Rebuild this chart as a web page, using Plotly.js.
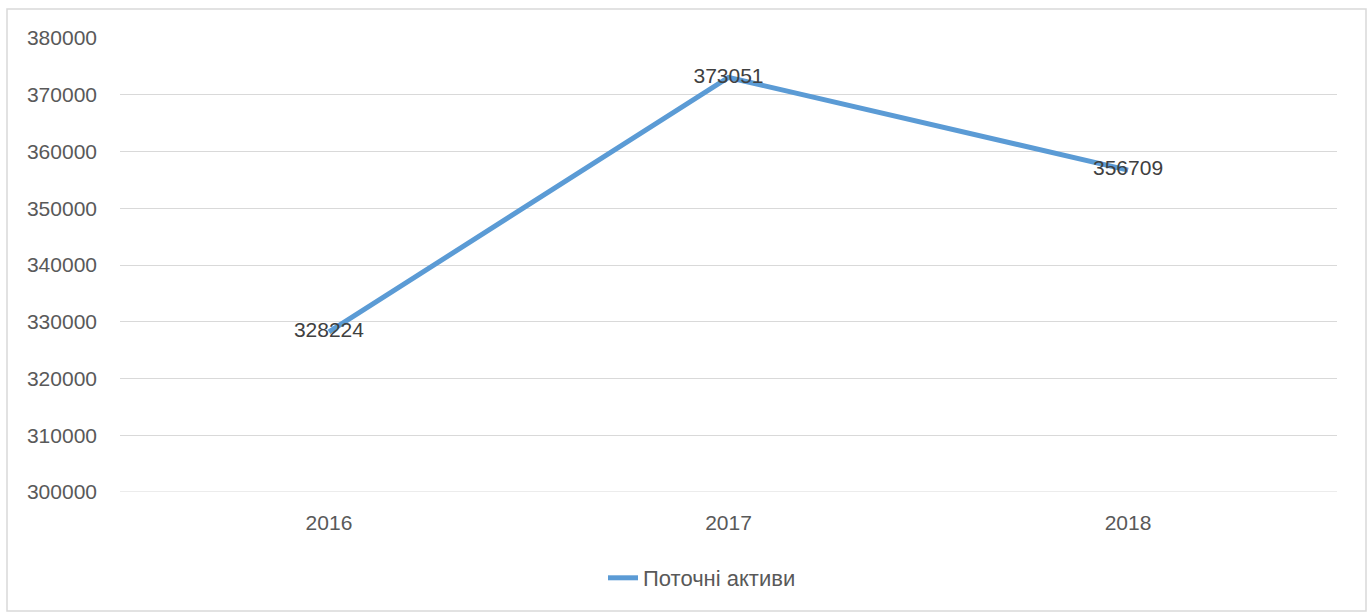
<!DOCTYPE html>
<html>
<head>
<meta charset="utf-8">
<script src="https://cdn.plot.ly/plotly-3.0.1.min.js"></script>
<style>html,body{margin:0;padding:0;background:#fff;}#chart{width:1371px;height:612px;}</style>
</head>
<body>
<div id="chart"></div>
<script>
const years = ['2016', '2017', '2018'];
const currentAssets = [328224, 373051, 356709];
const seriesName = 'Поточні активи';
const yTicks = [300000, 310000, 320000, 330000, 340000, 350000, 360000, 370000, 380000];

const L = 120, R = 1371 - 1337, T = 38, B = 612 - 492;
const pw = 1371 - L - R, ph = 612 - T - B;
const px = v => (v - L) / pw;
const py = v => (612 - B - v) / ph;
const FONT = 'Liberation Sans, Arial, sans-serif';

const trace = {
  x: years,
  y: currentAssets,
  type: 'scatter',
  mode: 'lines+text',
  name: seriesName,
  text: currentAssets.map(String),
  textposition: 'middle center',
  textfont: {family: FONT, size: 21, color: '#404040'},
  line: {color: '#5B9BD5', width: 5},
  cliponaxis: false
};

const layout = {
  width: 1371, height: 612,
  margin: {l: L, r: R, t: T, b: B},
  paper_bgcolor: '#ffffff',
  plot_bgcolor: '#ffffff',
  font: {family: FONT, color: '#595959', size: 21},
  showlegend: true,
  legend: {orientation: 'h', x: px(603), xanchor: 'left', y: py(578), yanchor: 'middle',
           font: {size: 22, color: '#595959'}},
  xaxis: {
    type: 'category', range: [-0.523, 2.523],
    showgrid: false, zeroline: false, showline: false, ticks: '',
    tickfont: {size: 21, color: '#595959'}, ticklabelstandoff: 16
  },
  yaxis: {
    range: [300000, 380000], tickvals: yTicks, ticktext: yTicks.map(String),
    showgrid: true, gridcolor: '#d9d9d9', gridwidth: 1,
    zeroline: false, showline: false, ticks: '',
    tickfont: {size: 21, color: '#595959'}, ticklabelstandoff: 22
  },
  shapes: [{
    type: 'rect', xref: 'paper', yref: 'paper',
    x0: px(7), x1: px(1366), y0: py(611), y1: py(9),
    line: {color: '#d9d9d9', width: 1.5}, fillcolor: 'rgba(0,0,0,0)', layer: 'below'
  }, {
    type: 'line', xref: 'paper', yref: 'y',
    x0: 0, x1: 1, y0: yTicks[0], y1: yTicks[0],
    line: {color: '#d9d9d9', width: 1}, layer: 'below'
  }]
};

Plotly.newPlot('chart', [trace], layout, {displayModeBar: false, staticPlot: true});
</script>
</body>
</html>
